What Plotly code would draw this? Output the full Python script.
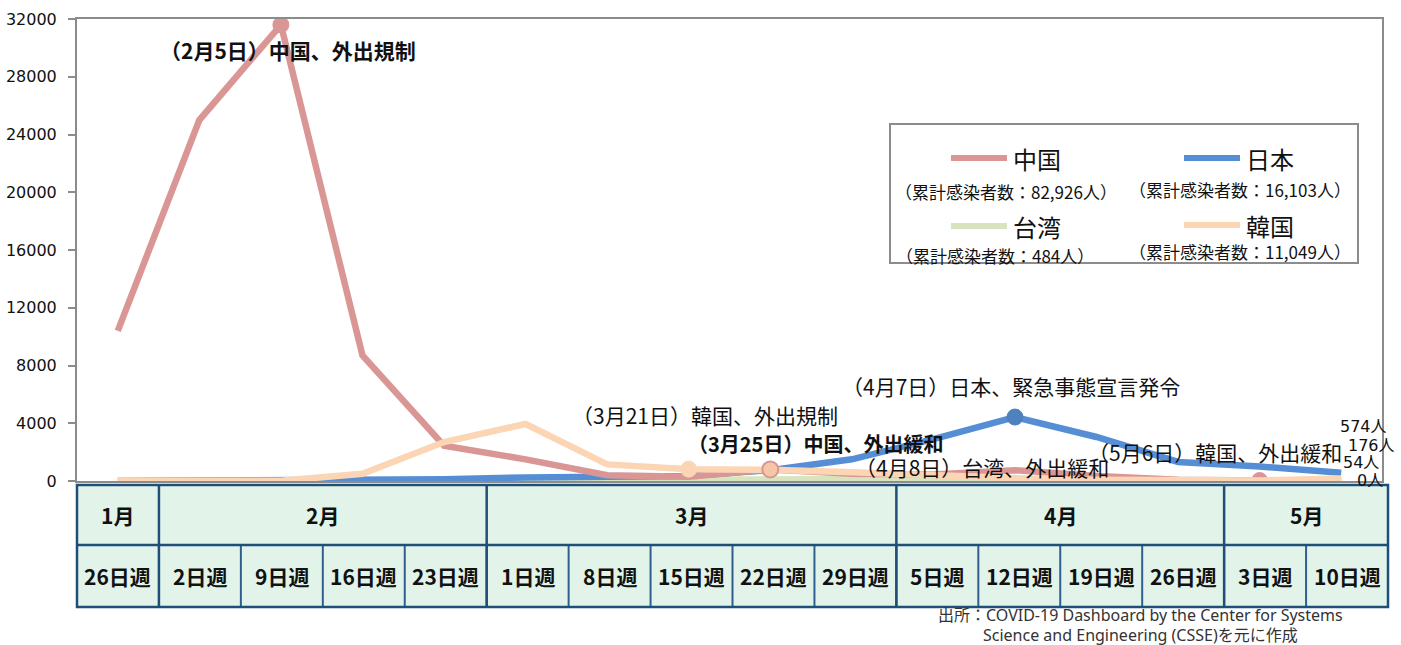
import plotly.graph_objects as go

# ---------------- data ----------------
weeks = ['26日週', '2日週', '9日週', '16日週', '23日週', '1日週', '8日週', '15日週',
         '22日週', '29日週', '5日週', '12日週', '19日週', '26日週', '3日週', '10日週']
months = ['1月', '2月', '3月', '4月', '5月']
month_spans = [1, 4, 5, 4, 2]

countries = ['中国', '日本', '台湾', '韓国']
cumulative = ['82,926', '16,103', '484', '11,049']

china = [10400, 25000, 31600, 8700, 2450, 1500, 400, 300, 800, 500, 450, 750, 350, 80, 40, 54]
japan = [2, 10, 15, 40, 120, 250, 300, 350, 750, 1500, 2900, 4430, 3050, 1320, 1000, 574]
taiwan = [3, 7, 8, 5, 9, 10, 5, 40, 110, 130, 75, 50, 27, 6, 2, 0]
korea = [1, 12, 15, 500, 2700, 3950, 1150, 820, 780, 600, 350, 200, 80, 60, 30, 176]

# events: (text, series name, week index, bold)
events = [
    ('（2月5日）中国、外出規制', '中国', 2, True),
    ('（3月21日）韓国、外出規制', '韓国', 7, False),
    ('（3月25日）中国、外出緩和', '中国', 8, True),
    ('（4月7日）日本、緊急事態宣言発令', '日本', 11, False),
    ('（4月8日）台湾、外出緩和', '台湾', 10, False),
    ('（5月6日）韓国、外出緩和', '韓国', 14, False),
]

source_lines = ['出所：COVID-19 Dashboard by the Center for Systems',
                'Science and Engineering (CSSE)を元に作成']

# ---------------- style ----------------
series = {'中国': china, '日本': japan, '台湾': taiwan, '韓国': korea}
colors = {'中国': '#d99694', '日本': '#558ed5', '台湾': '#d7e4bd', '韓国': '#fcd5b5'}
draw_order = ['台湾', '日本', '中国', '韓国']

W, H = 1401, 645
L, R, T, B = 77, 1382, 19, 481


def px(x):
    return (x - L) / (R - L)


def py(y):
    return (B - y) / (B - T)


JP = 'Noto Sans CJK JP'
x_idx = list(range(len(weeks)))

fig = go.Figure()

marker_style = {
    2: dict(color='#d99694', line=dict(color='#d99694', width=1)),
    7: dict(color='#fcd5b5', line=dict(color='#fcd5b5', width=1)),
    8: dict(color='#f7c6a8', line=dict(color='#d99694', width=2)),
    11: dict(color='#4f81bd', line=dict(color='#4f81bd', width=1)),
    14: dict(color='#d99694', line=dict(color='#d99694', width=1)),
}

# marker drawn underneath the lines (5/6 Korea)
for text, name, idx, bold in events:
    if idx == 14:
        fig.add_trace(go.Scatter(x=[x_idx[idx]], y=[series[name][idx]], mode='markers',
                                 marker=dict(size=16, **marker_style[idx]),
                                 showlegend=False, hoverinfo='skip'))

for name in draw_order:
    fig.add_trace(go.Scatter(x=x_idx, y=series[name], mode='lines', name=name,
                             line=dict(color=colors[name], width=6.5),
                             showlegend=False))

for text, name, idx, bold in events:
    if idx in (2, 7, 8, 11):
        fig.add_trace(go.Scatter(x=[x_idx[idx]], y=[series[name][idx]], mode='markers',
                                 marker=dict(size=16, **marker_style[idx]),
                                 showlegend=False, hoverinfo='skip'))

annotations = []
shapes = []

# event labels (positions in pixels)
event_pos = {2: (158, 50), 7: (570, 415), 8: (686, 443), 11: (840, 386), 10: (853, 467), 14: (1086, 452)}
for text, name, idx, bold in events:
    xp, yp = event_pos[idx]
    annotations.append(dict(
        x=px(xp), y=py(yp), xref='paper', yref='paper', xanchor='left', yanchor='middle',
        text=f'<b>{text}</b>' if bold else text, showarrow=False,
        font=dict(family=JP, size=21 if idx == 2 else (20 if bold else 21), color='#111')))

# right-end value labels
ends = sorted([(series[n][-1]) for n in countries], reverse=True)
end_pos = [(1363, 426), (1371, 445), (1361, 462), (1370, 480)]
for v, (xp, yp) in zip(ends, end_pos):
    annotations.append(dict(
        x=px(xp), y=py(yp), xref='paper', yref='paper', xanchor='center', yanchor='middle',
        text=f'{v}人', showarrow=False,
        font=dict(family='DejaVu Sans, ' + JP, size=16, color='#111')))

# ---------------- legend box ----------------
shapes.append(dict(type='rect', xref='paper', yref='paper',
                   x0=px(890), x1=px(1358), y0=py(124), y1=py(263),
                   line=dict(color='#8c8c8c', width=2), fillcolor='white', layer='above'))
leg_pos = {
    '中国': dict(lx=951, ly=158, sub=(1006, 191)),
    '日本': dict(lx=1184, ly=158, sub=(1240, 189)),
    '台湾': dict(lx=951, ly=226, sub=(995, 255)),
    '韓国': dict(lx=1184, ly=225, sub=(1240, 252)),
}
for name, total in zip(countries, cumulative):
    p = leg_pos[name]
    shapes.append(dict(type='line', xref='paper', yref='paper',
                       x0=px(p['lx']), x1=px(p['lx'] + 56), y0=py(p['ly']), y1=py(p['ly']),
                       line=dict(color=colors[name], width=6), layer='above'))
    annotations.append(dict(x=px(p['lx'] + 60), y=py(p['ly']), xref='paper', yref='paper',
                            xanchor='left', yanchor='middle', text=name, showarrow=False,
                            font=dict(family=JP, size=24, color='#111')))
    annotations.append(dict(x=px(p['sub'][0]), y=py(p['sub'][1]), xref='paper', yref='paper',
                            xanchor='center', yanchor='middle',
                            text=f'（累計感染者数：{total}人）', showarrow=False,
                            font=dict(family=JP, size=17, color='#111')))

# ---------------- table under the axis ----------------
tL, tR = 77, 1388
t0, t1, t2 = 485, 545, 607
cw = (tR - tL) / len(weeks)
navy = '#1f4e79'
fill = '#e2f4ea'
shapes.append(dict(type='rect', xref='paper', yref='paper', x0=px(tL), x1=px(tR),
                   y0=py(t0), y1=py(t2), fillcolor=fill, line=dict(width=0), layer='above'))
for i in range(1, len(weeks)):
    xv = tL + i * cw
    shapes.append(dict(type='line', xref='paper', yref='paper', x0=px(xv), x1=px(xv),
                       y0=py(t1), y1=py(t2), line=dict(color='#2f5f8f', width=2), layer='above'))
start = 0
for m, span in zip(months, month_spans):
    x0 = tL + start * cw
    x1 = tL + (start + span) * cw
    annotations.append(dict(x=px((x0 + x1) / 2), y=py((t0 + t1) / 2), xref='paper', yref='paper',
                            xanchor='center', yanchor='middle', text=f'<b>{m}</b>', showarrow=False,
                            font=dict(family=JP, size=21, color='#111')))
    start += span
    if start < len(weeks):
        shapes.append(dict(type='line', xref='paper', yref='paper', x0=px(x1), x1=px(x1),
                           y0=py(t0), y1=py(t2), line=dict(color=navy, width=2.5), layer='above'))
for i, w in enumerate(weeks):
    xc = tL + (i + 0.5) * cw
    annotations.append(dict(x=px(xc), y=py((t1 + t2) / 2), xref='paper', yref='paper',
                            xanchor='center', yanchor='middle', text=f'<b>{w}</b>', showarrow=False,
                            font=dict(family=JP, size=21, color='#111')))
shapes.append(dict(type='line', xref='paper', yref='paper', x0=px(tL), x1=px(tR),
                   y0=py(t1), y1=py(t1), line=dict(color=navy, width=2.5), layer='above'))
shapes.append(dict(type='rect', xref='paper', yref='paper', x0=px(tL), x1=px(tR),
                   y0=py(t0), y1=py(t2), line=dict(color=navy, width=2.5), layer='above'))

# source
for line, yp in zip(source_lines, [615, 635]):
    annotations.append(dict(x=px(1140), y=py(yp), xref='paper', yref='paper',
                            xanchor='center', yanchor='middle', text=line, showarrow=False,
                            font=dict(family='Noto Sans, ' + JP, size=16, color='#333')))

fig.update_layout(
    width=W, height=H,
    margin=dict(l=L, r=W - R, t=T, b=H - B, autoexpand=False),
    paper_bgcolor='white', plot_bgcolor='white',
    showlegend=False,
    annotations=annotations, shapes=shapes,
    xaxis=dict(range=[-0.5, len(weeks) - 0.5], showticklabels=False, showgrid=False,
               zeroline=False, showline=True, linecolor='#8c8c8c', linewidth=2, mirror=True,
               ticks='', automargin=False),
    yaxis=dict(range=[0, 32000], dtick=4000, tick0=0, tickformat='d', showgrid=False,
               zeroline=False, showline=True, linecolor='#8c8c8c', linewidth=2, mirror=True,
               ticks='outside', ticklen=7, tickcolor='#8c8c8c', tickwidth=2,
               ticklabelstandoff=8, automargin=False,
               tickfont=dict(family='DejaVu Sans', size=16, color='#111')),
)

fig.write_html('out.html', config={'displayModeBar': False},
               post_script="document.body.style.margin='0px';document.body.style.overflow='hidden';")
